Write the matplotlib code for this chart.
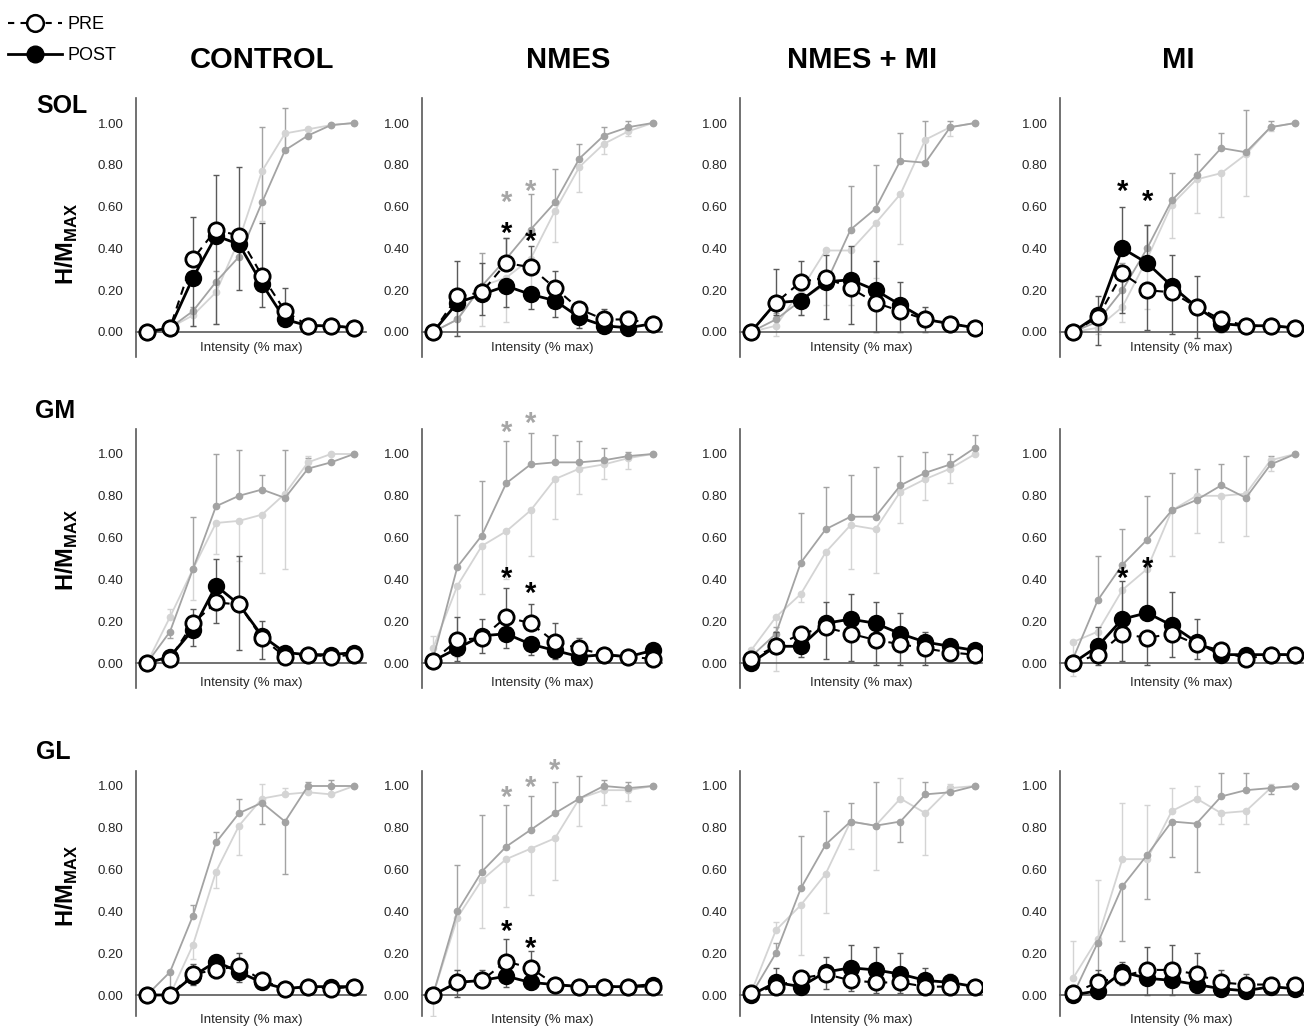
import numpy as np
import matplotlib.pyplot as plt
import matplotlib.transforms as mtransforms
from matplotlib.lines import Line2D

plt.rcParams['font.family'] = ['Liberation Sans', 'DejaVu Sans']
plt.rcParams['mathtext.fontset'] = 'custom'
plt.rcParams['mathtext.rm'] = 'Liberation Sans'
plt.rcParams['mathtext.bf'] = 'Liberation Sans:bold'

groups = ['CONTROL', 'NMES', 'NMES + MI', 'MI']
muscles = ['SOL', 'GM', 'GL']
steps = np.arange(10)
yticks = [0.0, 0.2, 0.4, 0.6, 0.8, 1.0]

# error values are signed: + drawn upward, - drawn downward
# ---- SOL (rows: CONTROL, NMES, NMES + MI, MI) ----
sol_h_pre = [[0, 0.02, 0.35, 0.49, 0.46, 0.27, 0.10, 0.03, 0.03, 0.02],
             [0, 0.17, 0.19, 0.33, 0.31, 0.21, 0.11, 0.06, 0.06, 0.04],
             [0, 0.14, 0.24, 0.26, 0.21, 0.14, 0.10, 0.06, 0.04, 0.02],
             [0, 0.07, 0.28, 0.20, 0.19, 0.12, 0.06, 0.03, 0.03, 0.02]]
sol_h_pre_err = [[0, 0, 0.20, 0.26, 0.33, 0.25, 0.11, 0, 0, 0],
                 [0, 0.17, 0.14, 0.12, 0.10, 0.08, 0.03, 0.05, 0.04, 0],
                 [0, 0.16, 0.10, 0.11, 0.20, 0.20, 0.14, 0.06, 0, 0],
                 [0, -0.13, -0.19, -0.19, -0.20, -0.15, -0.06, 0, 0, 0]]
sol_h_post = [[0, 0.02, 0.26, 0.46, 0.42, 0.23, 0.06, 0.03, 0.03, 0.02],
              [0, 0.14, 0.18, 0.22, 0.18, 0.15, 0.07, 0.03, 0.02, 0.04],
              [0, 0.14, 0.15, 0.24, 0.25, 0.20, 0.13, 0.06, 0.04, 0.02],
              [0, 0.08, 0.40, 0.33, 0.22, 0.12, 0.04, 0.03, 0.03, 0.02]]
sol_h_post_err = [[0, 0, -0.23, -0.42, -0.22, -0.11, -0.02, 0, 0, 0],
                  [0, -0.16, -0.10, -0.10, -0.07, -0.08, -0.05, -0.02, 0, 0],
                  [0, -0.06, -0.07, -0.18, -0.21, -0.20, -0.13, -0.06, 0, 0],
                  [0, 0.09, 0.20, 0.18, 0.15, 0.15, 0, 0, 0, 0]]
sol_m_pre = [[0, 0.02, 0.08, 0.19, 0.44, 0.77, 0.95, 0.97, 0.99, 1.00],
             [0, 0.06, 0.22, 0.26, 0.35, 0.58, 0.79, 0.90, 0.96, 1.00],
             [0, 0.03, 0.20, 0.39, 0.39, 0.52, 0.66, 0.92, 0.98, 1.00],
             [0, 0.02, 0.12, 0.35, 0.61, 0.73, 0.76, 0.85, 0.98, 1.00]]
sol_m_pre_err = [[0, 0, -0.05, -0.15, -0.05, -0.24, -0.09, -0.04, 0, 0],
                 [0, -0.08, -0.19, -0.21, -0.20, -0.15, -0.12, -0.05, -0.02, 0],
                 [0, -0.05, -0.12, -0.26, -0.26, -0.26, -0.24, -0.10, -0.04, 0],
                 [0, -0.03, -0.07, -0.24, -0.16, -0.16, -0.21, -0.20, -0.02, 0]]
sol_m_post = [[0, 0.02, 0.10, 0.24, 0.36, 0.62, 0.87, 0.94, 0.99, 1.00],
              [0, 0.06, 0.22, 0.35, 0.49, 0.62, 0.83, 0.94, 0.98, 1.00],
              [0, 0.06, 0.15, 0.23, 0.49, 0.59, 0.82, 0.81, 0.98, 1.00],
              [0, 0.05, 0.20, 0.40, 0.63, 0.75, 0.88, 0.86, 0.98, 1.00]]
sol_m_post_err = [[0, 0, 0.02, 0.05, 0.05, 0.36, 0.20, 0.03, 0, 0],
                  [0, 0.05, 0.16, 0.10, 0.17, 0.16, 0.07, 0.04, 0.03, 0],
                  [0, 0.03, 0.08, 0.06, 0.21, 0.21, 0.13, 0.20, 0.03, 0],
                  [0, 0.03, 0.13, 0.11, 0.13, 0.10, 0.07, 0.20, 0.03, 0]]

# ---- GM ----
gm_h_pre = [[0, 0.02, 0.19, 0.29, 0.28, 0.12, 0.03, 0.04, 0.03, 0.04],
            [0.01, 0.11, 0.12, 0.22, 0.19, 0.10, 0.07, 0.04, 0.03, 0.02],
            [0.02, 0.08, 0.14, 0.17, 0.14, 0.11, 0.09, 0.07, 0.05, 0.04],
            [0, 0.04, 0.14, 0.12, 0.14, 0.09, 0.06, 0.02, 0.04, 0.04]]
gm_h_pre_err = [[0, 0, 0.07, 0.21, 0.23, 0.08, 0, 0, 0, 0],
                [0, 0.11, 0.09, 0.14, 0.09, 0.09, 0.05, 0, 0, 0],
                [0, 0, -0.11, -0.15, -0.13, -0.12, -0.10, -0.08, -0.03, 0],
                [0, -0.05, -0.13, -0.13, -0.11, -0.07, -0.02, 0, 0, 0]]
gm_h_post = [[0, 0.03, 0.16, 0.37, 0.28, 0.13, 0.05, 0.04, 0.04, 0.05],
             [0.01, 0.07, 0.13, 0.14, 0.09, 0.06, 0.03, 0.04, 0.03, 0.06],
             [0, 0.08, 0.08, 0.19, 0.21, 0.19, 0.14, 0.10, 0.08, 0.06],
             [0, 0.08, 0.21, 0.24, 0.18, 0.10, 0.04, 0.04, 0.04, 0.04]]
gm_h_post_err = [[0, 0, -0.08, -0.18, -0.22, -0.11, 0, 0, 0, 0],
                 [0, -0.06, -0.08, -0.07, -0.05, -0.04, -0.02, 0, 0, 0],
                 [0, 0.07, 0.05, 0.10, 0.12, 0.10, 0.10, 0.05, 0, 0],
                 [0, 0.09, 0.18, 0.25, 0.16, 0.11, 0, 0, 0, 0]]
gm_m_pre = [[0, 0.22, 0.45, 0.67, 0.68, 0.71, 0.81, 0.96, 1.00, 1.00],
            [0.07, 0.37, 0.56, 0.63, 0.73, 0.88, 0.93, 0.95, 0.98, 1.00],
            [0.06, 0.22, 0.33, 0.53, 0.66, 0.64, 0.82, 0.88, 0.93, 1.00],
            [0.10, 0.15, 0.35, 0.45, 0.73, 0.80, 0.80, 0.81, 0.97, 1.00]]
gm_m_pre_err = [[0, 0.04, -0.15, -0.15, -0.19, -0.28, -0.36, 0.03, 0, 0],
                [0.06, -0.34, -0.23, -0.23, -0.22, -0.19, -0.12, -0.07, -0.05, 0],
                [0, -0.26, -0.04, -0.30, -0.21, -0.21, -0.15, -0.10, -0.07, 0],
                [-0.16, -0.10, -0.20, -0.20, -0.22, -0.18, -0.22, -0.20, -0.05, 0]]
gm_m_post = [[0, 0.15, 0.45, 0.75, 0.80, 0.83, 0.79, 0.93, 0.96, 1.00],
             [0.02, 0.46, 0.61, 0.86, 0.95, 0.96, 0.96, 0.97, 0.99, 1.00],
             [0.03, 0.14, 0.48, 0.64, 0.70, 0.70, 0.85, 0.91, 0.95, 1.03],
             [0.02, 0.30, 0.47, 0.59, 0.73, 0.78, 0.85, 0.79, 0.95, 1.00]]
gm_m_post_err = [[0, -0.03, 0.25, 0.25, 0.22, 0.07, 0.23, 0.05, 0, 0],
                 [0, 0.25, 0.26, 0.20, 0.15, 0.13, 0.10, 0.06, 0.02, 0],
                 [0, 0.03, 0.24, 0.20, 0.20, 0.24, 0.14, 0.10, 0.05, 0.06],
                 [0.02, 0.21, 0.17, 0.21, 0.18, 0.15, 0.10, 0.20, 0.04, 0]]

# ---- GL ----
gl_h_pre = [[0, 0, 0.10, 0.12, 0.14, 0.07, 0.03, 0.04, 0.03, 0.04],
            [0, 0.06, 0.07, 0.16, 0.13, 0.05, 0.04, 0.04, 0.04, 0.04],
            [0.01, 0.04, 0.08, 0.10, 0.07, 0.06, 0.06, 0.04, 0.04, 0.04],
            [0.01, 0.06, 0.09, 0.12, 0.12, 0.10, 0.06, 0.05, 0.05, 0.05]]
gl_h_pre_err = [[0, 0, 0.05, 0.07, 0.06, 0, 0, 0, 0, 0],
                [0, 0.06, 0.05, 0.11, 0.08, 0, 0, 0, 0, 0],
                [0, 0, 0, -0.07, -0.05, -0.05, -0.05, -0.02, 0, 0],
                [0, 0.06, 0.07, 0.11, 0.12, 0.10, 0.06, 0.05, 0.02, 0]]
gl_h_post = [[0, 0, 0.09, 0.16, 0.11, 0.06, 0.03, 0.04, 0.04, 0.04],
             [0, 0.06, 0.07, 0.09, 0.06, 0.05, 0.04, 0.04, 0.04, 0.05],
             [0, 0.06, 0.04, 0.11, 0.13, 0.12, 0.10, 0.07, 0.06, 0.04],
             [0, 0.02, 0.11, 0.08, 0.07, 0.05, 0.03, 0.02, 0.04, 0.03]]
gl_h_post_err = [[0, 0, -0.04, -0.08, -0.05, 0, 0, 0, 0, 0],
                 [0, -0.07, -0.03, -0.05, -0.03, 0, 0, 0, 0, 0],
                 [0, 0.07, 0.03, 0.07, 0.11, 0.11, 0.10, 0.06, 0.04, 0],
                 [0, -0.02, -0.06, -0.08, -0.07, -0.03, -0.02, -0.02, 0, 0]]
gl_m_pre = [[0, 0, 0.24, 0.59, 0.81, 0.94, 0.96, 0.97, 0.96, 1.00],
            [0, 0.37, 0.55, 0.65, 0.70, 0.75, 0.94, 0.98, 0.98, 1.00],
            [0.01, 0.31, 0.43, 0.58, 0.83, 0.81, 0.94, 0.87, 0.99, 1.00],
            [0.08, 0.27, 0.65, 0.65, 0.88, 0.94, 0.87, 0.88, 0.99, 1.00]]
gl_m_pre_err = [[0, 0, -0.07, -0.08, -0.14, 0.07, 0.03, 0.03, 0.05, 0],
                [-0.10, -0.25, -0.23, -0.23, -0.22, -0.20, -0.13, -0.07, -0.05, 0],
                [0, 0.04, -0.24, -0.19, -0.13, -0.21, 0.10, -0.20, 0.02, 0],
                [0.18, 0.28, 0.27, 0.26, 0.11, 0.06, -0.05, -0.06, 0.02, 0]]
gl_m_post = [[0, 0.11, 0.38, 0.73, 0.87, 0.92, 0.83, 1.00, 1.00, 1.00],
             [0, 0.40, 0.59, 0.71, 0.79, 0.87, 0.94, 1.00, 0.99, 1.00],
             [0, 0.20, 0.51, 0.72, 0.83, 0.81, 0.83, 0.96, 0.97, 1.00],
             [0, 0.25, 0.52, 0.67, 0.83, 0.82, 0.95, 0.98, 0.99, 1.00]]
gl_m_post_err = [[0, -0.10, 0.05, 0.05, 0.07, -0.10, -0.25, 0.02, 0.03, 0],
                 [0, 0.22, 0.27, 0.20, 0.16, 0.15, 0.11, 0.03, 0.03, 0],
                 [0, 0.05, 0.25, 0.16, 0.09, 0.21, -0.10, 0.06, 0.03, 0],
                 [0, -0.20, -0.26, -0.21, -0.17, -0.23, 0.11, 0.08, -0.03, 0]]

# significance markers: muscle, group, step, height, colour
stars = [('SOL', 'NMES', 3, 0.655, 'gray'), ('SOL', 'NMES', 4, 0.71, 'gray'),
         ('SOL', 'NMES', 3, 0.505, 'black'), ('SOL', 'NMES', 4, 0.47, 'black'),
         ('SOL', 'MI', 2, 0.71, 'black'), ('SOL', 'MI', 3, 0.66, 'black'),
         ('GM', 'NMES', 3, 1.14, 'gray'), ('GM', 'NMES', 4, 1.18, 'gray'),
         ('GM', 'NMES', 3, 0.44, 'black'), ('GM', 'NMES', 4, 0.37, 'black'),
         ('GM', 'MI', 2, 0.44, 'black'), ('GM', 'MI', 3, 0.49, 'black'),
         ('GL', 'NMES', 3, 0.98, 'gray'), ('GL', 'NMES', 4, 1.03, 'gray'),
         ('GL', 'NMES', 5, 1.11, 'gray'),
         ('GL', 'NMES', 3, 0.34, 'black'), ('GL', 'NMES', 4, 0.26, 'black')]

h_pre = {'SOL': sol_h_pre, 'GM': gm_h_pre, 'GL': gl_h_pre}
h_pre_err = {'SOL': sol_h_pre_err, 'GM': gm_h_pre_err, 'GL': gl_h_pre_err}
h_post = {'SOL': sol_h_post, 'GM': gm_h_post, 'GL': gl_h_post}
h_post_err = {'SOL': sol_h_post_err, 'GM': gm_h_post_err, 'GL': gl_h_post_err}
m_pre = {'SOL': sol_m_pre, 'GM': gm_m_pre, 'GL': gl_m_pre}
m_pre_err = {'SOL': sol_m_pre_err, 'GM': gm_m_pre_err, 'GL': gl_m_pre_err}
m_post = {'SOL': sol_m_post, 'GM': gm_m_post, 'GL': gl_m_post}
m_post_err = {'SOL': sol_m_post_err, 'GM': gm_m_post_err, 'GL': gl_m_post_err}

LIGHT = '#d4d4d4'
MID = '#a3a3a3'
ERR = '#5a5a5a'
AXC = '#595959'
star_colors = {'gray': '#a6a6a6', 'black': 'black'}

W, H = 1310, 1035
fig = plt.figure(figsize=(W / 100, H / 100), dpi=100)

# layout in pixels
col_axis = [136, 422, 740, 1060]
col_first = [147, 433, 751, 1073]
col_step = [23.0, 24.4, 24.9, 24.7]
col_right = [366, 662, 982, 1303]
row_zero = [332, 663, 995]
row_unit = 209
row_ylim = [(-0.12, 1.12), (-0.12, 1.12), (-0.10, 1.07)]
label_drop = [16, 20, 25]
ylab_center = [0.42, 0.54, 0.52]
row_label_xy = [(62, 106), (55, 411), (53, 752)]
title_x = [262, 568, 862, 1178]


def draw_err(ax, y, err, color, z):
    # one-sided error bars: vertical stem plus a cap at its end
    y = np.asarray(y, float)
    err = np.asarray(err, float)
    keep = err != 0
    if not keep.any():
        return
    x = steps[keep]
    ends = y[keep] + err[keep]
    ax.vlines(x, y[keep], ends, colors=color, lw=1.0, zorder=z)
    ax.plot(x, ends, ls='none', marker='_', ms=5, mew=1.0, color=color,
            zorder=z)


axes = {}
for r, mus in enumerate(muscles):
    y0, y1 = row_ylim[r]
    top_px = row_zero[r] - y1 * row_unit
    bot_px = row_zero[r] - y0 * row_unit
    for c, grp in enumerate(groups):
        xl = ((col_axis[c] - col_first[c]) / col_step[c],
              (col_right[c] - col_first[c]) / col_step[c])
        rect = [col_axis[c] / W, 1 - bot_px / H,
                (col_right[c] - col_axis[c]) / W, (bot_px - top_px) / H]
        ax = fig.add_axes(rect)
        axes[(mus, grp)] = ax
        ax.set_xlim(*xl)
        ax.set_ylim(y0, y1)

        # M-wave curves (grey)
        draw_err(ax, m_pre[mus][c], m_pre_err[mus][c], LIGHT, 1)
        draw_err(ax, m_post[mus][c], m_post_err[mus][c], MID, 1.5)
        ax.plot(steps, m_pre[mus][c], color=LIGHT, lw=1.3, marker='o',
                ms=4.5, zorder=2)
        ax.plot(steps, m_post[mus][c], color=MID, lw=1.3, marker='o',
                ms=4.5, zorder=2.5)

        # H-reflex curves
        draw_err(ax, h_post[mus][c], h_post_err[mus][c], ERR, 3)
        draw_err(ax, h_pre[mus][c], h_pre_err[mus][c], ERR, 3)
        ax.plot(steps, h_post[mus][c], color='black', lw=2.0, marker='o',
                ms=11, mfc='black', mec='black', mew=1.5, zorder=4)
        ax.plot(steps, h_pre[mus][c], color='black', lw=1.5,
                ls=(0, (4, 3)), marker='o', ms=11, mfc='white',
                mec='black', mew=2.0, zorder=5)

        for s in ['top', 'right']:
            ax.spines[s].set_visible(False)
        ax.spines['bottom'].set_position(('data', 0))
        ax.spines['bottom'].set_color(AXC)
        ax.spines['left'].set_color(AXC)
        ax.spines['left'].set_linewidth(1.2)
        ax.spines['bottom'].set_linewidth(1.2)
        ax.set_xticks([])
        ax.set_yticks(yticks)
        ax.set_yticklabels(['%.2f' % v for v in yticks])
        ax.tick_params(axis='y', length=0, pad=9, labelsize=9.5,
                       labelcolor='#262626')
        ax.patch.set_alpha(0)

        ax.annotate('Intensity (% max)', xy=(0.5, 0),
                    xycoords=('axes fraction', 'data'),
                    xytext=(0, -label_drop[r] * 0.72),
                    textcoords='offset points', ha='center', va='center',
                    fontsize=9.5, color='#262626', annotation_clip=False)

    # row label and y label
    lx, ly = row_label_xy[r]
    fig.text(lx / W, 1 - ly / H, mus, ha='center', va='center',
             fontsize=18, fontweight='bold')
    ax0 = axes[(mus, 'CONTROL')]
    tr = mtransforms.blended_transform_factory(fig.transFigure, ax0.transData)
    fig.text(67 / W, ylab_center[r], r'$\mathbf{H/M}_{\mathbf{MAX}}$',
             transform=tr, rotation=90, ha='center', va='center',
             fontsize=17)

for c, grp in enumerate(groups):
    fig.text(title_x[c] / W, 1 - 60 / H, grp, ha='center', va='center',
             fontsize=21, fontweight='bold')

for mus, grp, k, yv, col in stars:
    ax = axes[(mus, grp)]
    ax.annotate('*', xy=(k, yv), xytext=(0, -11.5),
                textcoords='offset points', ha='center', va='baseline',
                fontsize=21, fontweight='bold', color=star_colors[col],
                annotation_clip=False, zorder=6)

handles = [Line2D([0], [0], color='black', lw=1.5, ls=(0, (3, 3)),
                  marker='o', ms=12, mfc='white', mec='black', mew=1.8),
           Line2D([0], [0], color='black', lw=2.0, marker='o', ms=12,
                  mfc='black', mec='black')]
fig.legend(handles, ['PRE', 'POST'], loc='upper left',
           bbox_to_anchor=(-0.002, 0.995), frameon=False, fontsize=13,
           handlelength=3.0, handletextpad=0.3, labelspacing=0.8,
           borderaxespad=0.2)

fig.savefig('out.png', dpi=100)
